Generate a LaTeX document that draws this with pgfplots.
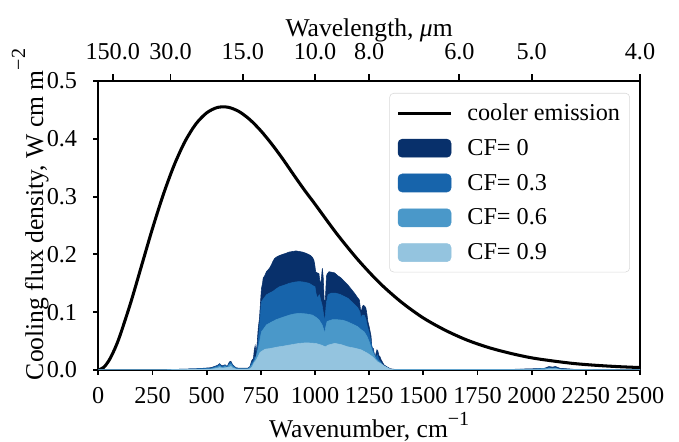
\documentclass[border=0pt]{standalone}
\usepackage{fontspec}
\setmainfont{Liberation Serif}
\usepackage{pgfplots}
\pgfplotsset{compat=1.18}
\definecolor{cfA}{HTML}{08306B}
\definecolor{cfB}{HTML}{1764AB}
\definecolor{cfC}{HTML}{4A98C9}
\definecolor{cfD}{HTML}{94C4DF}
\newcommand{\sups}[2]{\raisebox{#1}{\fontsize{14.5}{15}\selectfont #2}}
\begin{document}
\begin{tikzpicture}
\begin{axis}[name=ax, at={(0,0)}, anchor=south west,
  scale only axis, width=5.417in, height=2.89in,
  xmin=0, xmax=2500, ymin=0, ymax=0.5,
  xtick={0,250,...,2500}, ytick={0,0.1,0.2,0.3,0.4,0.5},
  /pgf/number format/assume math mode=true,
  /pgf/number format/1000 sep={},
  yticklabel style={/pgf/number format/fixed, /pgf/number format/precision=1, /pgf/number format/fixed zerofill,
    anchor=east, inner sep=0pt, xshift=-0.16in},
  xticklabel style={anchor=north, inner sep=0pt, yshift=-0.125in},
  scaled y ticks=false,
  xtick pos=lower, ytick pos=left, tick align=outside,
  major tick length=3.6pt,
  axis line style={line width=1.4pt},
  every tick/.style={black, line width=1.4pt},
  tick label style={font=\fontsize{17.5}{20}\selectfont},
  label style={font=\fontsize{18.5}{22}\selectfont},
  xlabel={Wavenumber, cm\sups{0.45em}{−1}},
  ylabel={Cooling flux density, W cm m\sups{0.7em}{−2}},
  xlabel style={at={(axis description cs:0.5,0)}, anchor=base, yshift=-0.672in},
  ylabel style={at={(axis description cs:-0.102,0.538)}, anchor=base},
  legend cell align=left,
  legend style={at={(0.9815,0.9585)}, anchor=north east, draw=black!15, rounded corners=3pt,
    fill=white, font=\fontsize{17.5}{21}\selectfont, row sep=8pt, inner xsep=5pt, inner ysep=5.5pt,
    /tikz/every odd column/.append style={column sep=8.7pt}},
]
\addplot[black, line width=2.2pt, smooth,
  legend image code/.code={\draw[black, line width=2.2pt] (0,0) -- (0.53in,0);}] coordinates {
(0,0) (25,0.0045) (50,0.0169) (75,0.0357) (100,0.0595) (150,0.117) (200,0.1809)
(250,0.2447) (300,0.3035) (350,0.3543) (400,0.3953) (450,0.4254) (500,0.4448)
(550,0.4542) (600,0.4545) (650,0.447) (700,0.433) (750,0.4139) (800,0.3911)
(850,0.3658) (900,0.3386) (950,0.312) (1000,0.287) (1100,0.236) (1200,0.190)
(1300,0.150) (1400,0.117) (1500,0.090) (1600,0.069) (1700,0.052) (1800,0.039)
(1900,0.029) (2000,0.021) (2100,0.0155) (2200,0.011) (2300,0.008) (2400,0.0058)
(2500,0.0042)};
\addlegendentry{cooler emission}
\addplot[fill=cfA, draw=cfA, line width=0.4pt,
  legend image code/.code={\fill[cfA] (0,-0.09in) rectangle (0.53in,0.09in);}] coordinates {
(0,0) (300,0) (350,0.001) (450,0.002) (520,0.004) (550,0.008) (560,0.011) (570,0.007)
(585,0.009) (595,0.006) (605,0.014) (612,0.015) (620,0.009) (635,0.004) (650,0.003)
(690,0.003) (700,0.006) (708,0.016) (716,0.02) (720,0.035) (724,0.042) (728,0.03)
(733,0.045) (738,0.072) (744,0.09) (750,0.125) (753,0.141) (758,0.150) (761,0.159)
(768,0.163) (776,0.170) (783,0.173) (790,0.176) (799,0.182) (806,0.188) (814,0.193)
(825,0.196) (836,0.198) (850,0.200) (867,0.202) (880,0.204) (897,0.205) (912,0.206)
(927,0.205) (943,0.204) (958,0.202) (970,0.200) (980,0.198) (988,0.195) (995,0.190)
(999,0.182) (1003,0.170) (1010,0.168) (1018,0.167) (1022,0.155) (1026,0.147)
(1030,0.160) (1034,0.176) (1038,0.16) (1042,0.125) (1045,0.107) (1049,0.13)
(1053,0.162) (1056,0.166) (1065,0.170) (1079,0.169) (1091,0.168) (1102,0.164)
(1121,0.159) (1136,0.153) (1152,0.147) (1167,0.140) (1182,0.133) (1195,0.126)
(1205,0.121) (1210,0.105) (1214,0.101) (1219,0.110) (1224,0.112) (1230,0.110)
(1235,0.107) (1240,0.096) (1244,0.084) (1250,0.075) (1255,0.066) (1259,0.058)
(1262,0.040) (1266,0.037) (1270,0.037) (1274,0.025) (1277,0.017) (1281,0.028)
(1286,0.035) (1290,0.033) (1295,0.025) (1300,0.023) (1305,0.018) (1311,0.014)
(1318,0.009) (1330,0.006) (1348,0.002) (1370,0.001) (1500,0.001) (1900,0.001)
(2000,0.002) (2060,0.003) (2080,0.006) (2095,0.005) (2110,0.006) (2130,0.003)
(2200,0.001) (2500,0)} \closedcycle;
\addlegendentry{CF= 0}
\addplot[fill=cfB, draw=cfB, line width=0.4pt,
  legend image code/.code={\fill[cfB] (0,-0.09in) rectangle (0.53in,0.09in);}] coordinates {
(0,0) (300,0) (350,0.001) (450,0.002) (520,0.003) (550,0.007) (560,0.010) (570,0.006)
(585,0.008) (595,0.005) (605,0.012) (612,0.013) (620,0.008) (635,0.003) (650,0.002)
(690,0.002) (700,0.005) (708,0.012) (716,0.016) (723,0.023) (728,0.02) (733,0.035)
(738,0.049) (745,0.08) (750,0.105) (753,0.118) (760,0.122) (776,0.130) (790,0.133)
(806,0.136) (820,0.140) (836,0.144) (860,0.147) (882,0.150) (905,0.152) (927,0.153)
(950,0.152) (973,0.150) (990,0.146) (1000,0.144) (1005,0.132) (1011,0.124)
(1016,0.128) (1021,0.130) (1027,0.12) (1033,0.112) (1038,0.10) (1042,0.09)
(1045,0.084) (1049,0.10) (1053,0.118) (1056,0.121) (1060,0.130) (1075,0.133)
(1094,0.133) (1114,0.131) (1136,0.127) (1152,0.124) (1175,0.116) (1197,0.108)
(1208,0.100) (1212,0.089) (1218,0.095) (1227,0.095) (1235,0.088) (1242,0.075)
(1250,0.065) (1258,0.049) (1265,0.038) (1273,0.029) (1280,0.022) (1288,0.026)
(1295,0.018) (1303,0.014) (1315,0.008) (1326,0.006) (1348,0.001) (1370,0.001)
(1500,0.001) (1900,0.001) (2000,0.0015) (2060,0.002) (2080,0.004) (2095,0.0035)
(2110,0.004) (2130,0.002) (2200,0.001) (2500,0)} \closedcycle;
\addlegendentry{CF= 0.3}
\addplot[fill=cfC, draw=cfC, line width=0.4pt,
  legend image code/.code={\fill[cfC] (0,-0.09in) rectangle (0.53in,0.09in);}] coordinates {
(0,0) (300,0) (350,0.001) (450,0.001) (520,0.002) (550,0.005) (560,0.007) (570,0.004)
(585,0.006) (595,0.004) (605,0.009) (612,0.010) (620,0.006) (635,0.002) (690,0.002)
(700,0.004) (710,0.009) (723,0.017) (730,0.025) (738,0.037) (745,0.05) (753,0.066)
(765,0.072) (776,0.078) (800,0.083) (821,0.087) (850,0.091) (882,0.095) (905,0.097)
(927,0.098) (960,0.097) (988,0.095) (1005,0.091) (1018,0.087) (1028,0.081)
(1033,0.078) (1040,0.07) (1045,0.063) (1050,0.075) (1056,0.084) (1080,0.087)
(1102,0.087) (1130,0.086) (1152,0.083) (1175,0.079) (1197,0.075) (1212,0.070)
(1227,0.066) (1240,0.058) (1250,0.049) (1258,0.040) (1265,0.032) (1273,0.026)
(1280,0.020) (1290,0.016) (1303,0.012) (1318,0.007) (1333,0.004) (1348,0.001)
(1370,0.0005) (1500,0.0005) (1900,0.0005) (2000,0.001) (2080,0.003) (2095,0.002)
(2110,0.003) (2130,0.001) (2200,0.0005) (2500,0)} \closedcycle;
\addlegendentry{CF= 0.6}
\addplot[fill=cfD, draw=cfD, line width=0.4pt,
  legend image code/.code={\fill[cfD] (0,-0.09in) rectangle (0.53in,0.09in);}] coordinates {
(0,0) (300,0) (350,0.0005) (450,0.001) (520,0.001) (550,0.003) (560,0.004) (575,0.003)
(605,0.005) (612,0.006) (620,0.003) (640,0.001) (690,0.001) (700,0.002) (710,0.005)
(720,0.013) (729,0.017) (740,0.025) (746,0.030) (753,0.032) (770,0.036) (791,0.037)
(832,0.040) (851,0.041) (880,0.043) (927,0.046) (960,0.047) (1003,0.046) (1030,0.043)
(1048,0.040) (1060,0.043) (1091,0.046) (1120,0.044) (1152,0.040) (1180,0.038)
(1212,0.035) (1242,0.029) (1265,0.023) (1288,0.014) (1303,0.011) (1318,0.007)
(1333,0.004) (1348,0.001) (1370,0) (2060,0) (2080,0.002) (2110,0.002) (2140,0)
(2500,0)} \closedcycle;
\addlegendentry{CF= 0.9}
\end{axis}
\begin{axis}[at={(ax.south west)}, anchor=south west,
  scale only axis, width=5.417in, height=2.89in,
  xmin=0, xmax=2500, ymin=0, ymax=0.5,
  axis x line*=top, axis y line=none,
  xtick={66.667,333.333,666.667,1000,1250,1666.667,2000,2500},
  xticklabels={150.0,30.0,15.0,10.0,8.0,6.0,5.0,4.0},
  xticklabel style={anchor=south, inner sep=0pt, yshift=0.144in},
  tick align=outside, major tick length=5pt,
  axis line style={line width=1.4pt},
  every tick/.style={black, line width=1.4pt},
  tick label style={font=\fontsize{17.5}{20}\selectfont},
  label style={font=\fontsize{18.5}{22}\selectfont},
  xlabel={Wavelength, \textit{μ}m},
  xlabel style={at={(axis description cs:0.5,1)}, anchor=base, yshift=0.446in},
]
\addplot[draw=none] coordinates {(0,0)};
\end{axis}
\path (ax.south west) ++(-0.983in,-0.72in) coordinate (bl);
\path (ax.north east) ++(0.39in,0.81in) coordinate (tr);
\pgfresetboundingbox
\useasboundingbox (bl) rectangle (tr);
\end{tikzpicture}
\end{document}
